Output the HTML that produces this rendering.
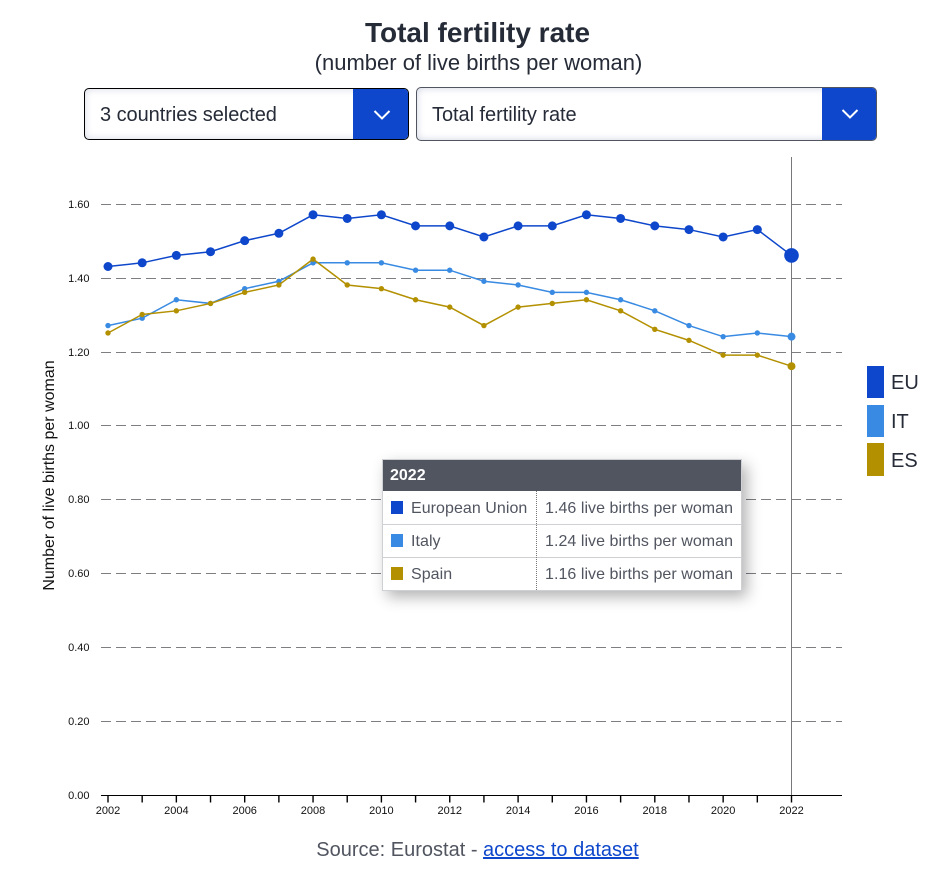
<!DOCTYPE html>
<html lang="en">
<head>
<meta charset="utf-8">
<title>Total fertility rate</title>
<style>
html,body{margin:0;padding:0;background:#fff;}
body{position:relative;width:935px;height:876px;overflow:hidden;font-family:"Liberation Sans",Arial,sans-serif;}
.abs{position:absolute;}
#title{left:0;width:955px;top:17px;text-align:center;font-size:28px;line-height:32px;font-weight:bold;color:#262b38;white-space:nowrap;}
#subtitle{left:0;width:957px;top:50px;text-align:center;font-size:22px;line-height:26px;color:#262b38;white-space:nowrap;}
.select{box-sizing:border-box;background:#fff;overflow:hidden;border-radius:5px;}
.select .label{position:absolute;left:15px;top:2px;bottom:0;display:flex;align-items:center;font-size:20px;color:#262b38;white-space:nowrap;letter-spacing:-.05px;}
.select .btn{position:absolute;right:0;top:0;bottom:0;background:#0e47cb;}
.select .btn svg{position:absolute;left:50%;top:50%;}
#sel1{left:84px;top:88px;width:325px;height:52px;border:1px solid #000;box-shadow:inset 0 0 8px #d6d9e6;}
#sel1 .btn{width:55px;}
#sel1 .btn svg{margin-left:-7.5px;margin-top:-5px;}
#sel2{left:416px;top:87px;width:461px;height:54px;border:1px solid #515560;box-shadow:inset 0 0 8px #cfd3e2;}
#sel2 .btn{width:54px;}
#sel2 .btn svg{margin-left:-8.5px;margin-top:-6px;}
#chart{left:0;top:0;}
.lg-sw{position:absolute;left:867px;width:17px;}
.lg-tx{position:absolute;left:891px;font-size:20px;line-height:24px;color:#262b38;}
#tooltip{left:382px;top:459px;width:358px;height:130px;border:1px solid #cfd0d3;background:#fff;box-shadow:5px 6px 14px rgba(0,0,0,.3);}
#tt-head{position:absolute;left:0;top:0;right:0;height:31px;background:#515560;color:#fff;font-weight:bold;font-size:16px;line-height:31px;padding-left:7px;}
.tt-row{position:absolute;left:0;right:0;height:33px;font-size:16px;line-height:33px;color:#515560;white-space:nowrap;letter-spacing:.05px;}
.tt-row+.tt-row{border-top:1px solid #cfd0d3;}
.tt-sw{position:absolute;left:8px;top:9px;width:12px;height:13px;}
.tt-row.first .tt-sw{top:10px;}
.tt-name{position:absolute;left:28px;top:0;}
.tt-val{position:absolute;left:162px;top:0;}
.tt-row.first .tt-name,.tt-row.first .tt-val{top:1px;}
#tt-div{position:absolute;left:153px;top:31px;bottom:0;border-left:1px dotted #777;}
#source{left:0;width:955px;top:837px;text-align:center;font-size:20px;line-height:26px;color:#515560;white-space:nowrap;}
#source a{color:#0e47cb;}
</style>
</head>
<body>

<svg id="chart" class="abs" width="935" height="876" xmlns="http://www.w3.org/2000/svg"></svg>

<div id="title" class="abs">Total fertility rate</div>
<div id="subtitle" class="abs">(number of live births per woman)</div>

<div id="sel1" class="abs select">
  <span class="label">3 countries selected</span>
  <div class="btn">
    <svg width="18" height="12" viewBox="0 0 18 12"><path d="M1.5 2 L9 9.5 L16.5 2" fill="none" stroke="#fff" stroke-width="2"/></svg>
  </div>
</div>

<div id="sel2" class="abs select">
  <span class="label">Total fertility rate</span>
  <div class="btn">
    <svg width="18" height="12" viewBox="0 0 18 12"><path d="M1.5 2 L9 9.5 L16.5 2" fill="none" stroke="#fff" stroke-width="2"/></svg>
  </div>
</div>

<div class="lg-sw" style="top:366px;height:32px;background:#0e47cb"></div>
<div class="lg-tx" style="top:371px">EU</div>
<div class="lg-sw" style="top:405px;height:32px;background:#388ae2"></div>
<div class="lg-tx" style="top:410px">IT</div>
<div class="lg-sw" style="top:443px;height:33px;background:#b39000"></div>
<div class="lg-tx" style="top:449px">ES</div>

<div id="tooltip" class="abs">
  <div id="tt-head">2022</div>
  <div class="tt-row first" style="top:31px">
    <span class="tt-sw" style="background:#0e47cb"></span>
    <span class="tt-name">European Union</span>
    <span class="tt-val">1.46 live births per woman</span>
  </div>
  <div class="tt-row" style="top:64px">
    <span class="tt-sw" style="background:#388ae2"></span>
    <span class="tt-name">Italy</span>
    <span class="tt-val">1.24 live births per woman</span>
  </div>
  <div class="tt-row" style="top:97px">
    <span class="tt-sw" style="background:#b39000"></span>
    <span class="tt-name">Spain</span>
    <span class="tt-val">1.16 live births per woman</span>
  </div>
  <div id="tt-div"></div>
</div>

<div id="source" class="abs">Source: Eurostat - <a href="#">access to dataset</a></div>

<script>
const years = [2002,2003,2004,2005,2006,2007,2008,2009,2010,2011,2012,2013,2014,2015,2016,2017,2018,2019,2020,2021,2022];
const euValues = [1.43,1.44,1.46,1.47,1.50,1.52,1.57,1.56,1.57,1.54,1.54,1.51,1.54,1.54,1.57,1.56,1.54,1.53,1.51,1.53,1.46];
const itValues = [1.27,1.29,1.34,1.33,1.37,1.39,1.44,1.44,1.44,1.42,1.42,1.39,1.38,1.36,1.36,1.34,1.31,1.27,1.24,1.25,1.24];
const esValues = [1.25,1.30,1.31,1.33,1.36,1.38,1.45,1.38,1.37,1.34,1.32,1.27,1.32,1.33,1.34,1.31,1.26,1.23,1.19,1.19,1.16];
const yTicks = [0,0.2,0.4,0.6,0.8,1.0,1.2,1.4,1.6];
const highlightYear = 2022;

const NS = 'http://www.w3.org/2000/svg';
const svg = document.getElementById('chart');
const xScale = function (year) { return 108 + (year - 2002) * 34.175; };
const yScale = function (v) { return 794.6 - v * 369.3; };
const snapY = function (v) { return Math.floor(yScale(v) + 0.65) + 0.5; };

function make(tag, attrs, parent) {
  const el = document.createElementNS(NS, tag);
  Object.keys(attrs).forEach(function (k) { el.setAttribute(k, attrs[k]); });
  (parent || svg).appendChild(el);
  return el;
}

yTicks.forEach(function (t) {
  const y = snapY(t);
  if (t > 0) {
    const grid = make('line', {x1: 101, x2: 842, y1: y, y2: y, stroke: '#7d7d82', 'stroke-width': 1, 'stroke-dasharray': '10 5'});
    
    
  }
  const label = make('text', {x: 89.5, y: y + 3.5, 'text-anchor': 'end', 'font-size': 11, fill: '#111'});
  
  
  label.textContent = t.toFixed(2);
});

const axis = make('line', {x1: 101, x2: 842, y1: 795.5, y2: 795.5, stroke: '#000', 'stroke-width': 1});



years.forEach(function (yr, i) {
  const x = xScale(yr);
  const tick = make('line', {x1: x, x2: x, y1: 795, y2: 802.5, stroke: '#000', 'stroke-width': 1.4});
  
  
  if (i % 2 === 0) {
    const label = make('text', {x: x, y: 814, 'text-anchor': 'middle', 'font-size': 11, fill: '#111'});
    
    
    label.textContent = yr;
  }
});

const yTitle = make('text', {transform: 'translate(54,475.5) rotate(-90)', 'text-anchor': 'middle', 'font-size': 16, fill: '#111'});


yTitle.textContent = 'Number of live births per woman';

const marker = make('line', {x1: xScale(highlightYear), x2: xScale(highlightYear), y1: 157, y2: 795, stroke: '#77777c', 'stroke-width': 1});



function drawSeries(values, color, radius, hiRadius, key) {
  const g = make('g', {});
  
  
  const pts = values.map(function (v, i) { return xScale(years[i]) + ',' + yScale(v); }).join(' ');
  const line = make('polyline', {points: pts, fill: 'none', stroke: color, 'stroke-width': 1.5}, g);
  
  
  values.forEach(function (v, i) {
    const hi = years[i] === highlightYear;
    const pt = make('circle', {cx: xScale(years[i]), cy: yScale(v), r: hi ? hiRadius : radius, fill: color}, g);
    
    
  });
}

drawSeries(itValues, '#388ae2', 2.7, 4, 'it');
drawSeries(esValues, '#b39000', 2.7, 4, 'es');
drawSeries(euValues, '#0e47cb', 4.5, 7.3, 'eu');
</script>
</body>
</html>
